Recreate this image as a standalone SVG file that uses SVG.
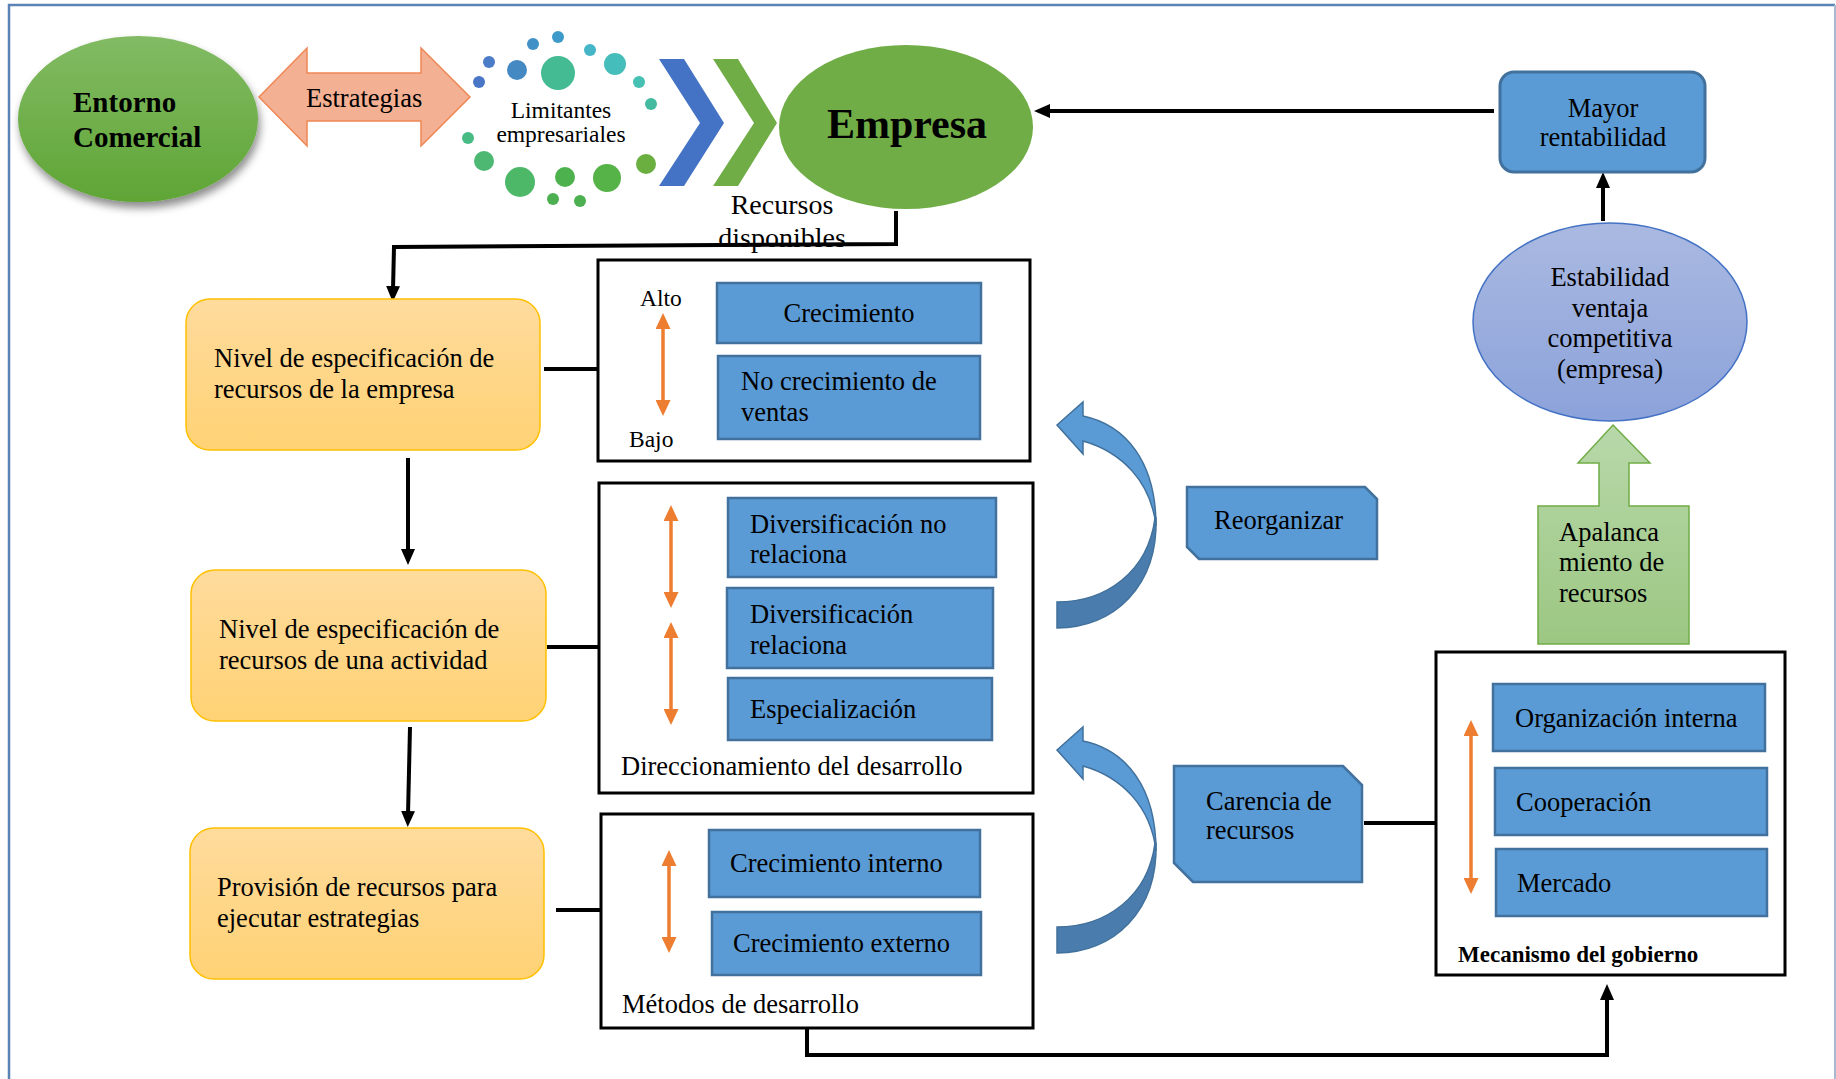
<svg xmlns="http://www.w3.org/2000/svg" width="1836" height="1079" viewBox="0 0 1836 1079">
  <style>
    text { font-family: "Liberation Serif", "Times New Roman", serif; fill: #000; }
    .t { font-size: 26.5px; }
    .tc { font-size: 26.5px; text-anchor: middle; }
    .box { fill: none; stroke: #000; stroke-width: 3; }
    .blue { fill: #5B9BD5; stroke: #41719C; stroke-width: 2.5; }
    .nivel { fill: url(#gNivel); stroke: #FFC000; stroke-width: 1.5; }
    .conn { fill: none; stroke: #000; stroke-width: 4; }
    .link { fill: none; stroke: #000; stroke-width: 4; }
    .orange { fill: none; stroke: #ED7D31; stroke-width: 3.5; marker-start: url(#oHead); marker-end: url(#oHead); }
    .curvF { fill: #5B9BD5; stroke: #41719C; stroke-width: 1.5; }
    .curvB { fill: #4A7DAE; stroke: #41719C; stroke-width: 1.5; }
  </style>
  <defs>
    <linearGradient id="gNivel" x1="0" y1="0" x2="0" y2="1">
      <stop offset="0" stop-color="#FFDB9D"/>
      <stop offset="1" stop-color="#FFD274"/>
    </linearGradient>
    <linearGradient id="gEntorno" x1="0" y1="0" x2="0" y2="1">
      <stop offset="0" stop-color="#82BB64"/>
      <stop offset="1" stop-color="#5FA535"/>
    </linearGradient>
    <linearGradient id="gEstab" x1="0" y1="0" x2="0" y2="1">
      <stop offset="0" stop-color="#AAB9E1"/>
      <stop offset="1" stop-color="#8BA2DA"/>
    </linearGradient>
    <linearGradient id="gApal" x1="0" y1="0" x2="0" y2="1">
      <stop offset="0" stop-color="#B8D8AA"/>
      <stop offset="1" stop-color="#9CC782"/>
    </linearGradient>
    <filter id="shadow" x="-20%" y="-20%" width="140%" height="150%">
      <feDropShadow dx="2" dy="6" stdDeviation="4" flood-color="#000" flood-opacity="0.45"/>
    </filter>
    <marker id="bHead" viewBox="0 0 16 14" refX="4" refY="7" markerWidth="16" markerHeight="14" markerUnits="userSpaceOnUse" orient="auto">
      <path d="M0,0 L16,7 L0,14 z" fill="#000"/>
    </marker>
    <marker id="oHead" viewBox="0 0 16 15" refX="3" refY="7.5" markerWidth="16" markerHeight="15" markerUnits="userSpaceOnUse" orient="auto-start-reverse">
      <path d="M0,0 L16,7.5 L0,15 z" fill="#ED7D31"/>
    </marker>
  </defs>

  <rect width="1836" height="1079" fill="#fff"/>

  <!-- page frame -->
  <path d="M9,1079 V5 H1835" fill="none" stroke="#5B84B6" stroke-width="2.5"/>
  <path d="M1835,5 V1079" fill="none" stroke="#A9BACF" stroke-width="2"/>

  <!-- connectors -->
  <g id="connectors">
    <path class="conn" d="M896,211 V244 L394,247 L393,290" marker-end="url(#bHead)"/>
    <path class="conn" d="M408,458 V553" marker-end="url(#bHead)"/>
    <path class="conn" d="M410,727 L408,815" marker-end="url(#bHead)"/>
    <path class="conn" d="M807,1028 V1055 H1607 V996" marker-end="url(#bHead)"/>
    <path class="conn" d="M1494,111 H1046" marker-end="url(#bHead)"/>
    <path class="conn" d="M1603,221 V184" marker-end="url(#bHead)"/>
    <path class="link" d="M544,369 H598"/>
    <path class="link" d="M547,647 H599"/>
    <path class="link" d="M556,910 H601"/>
    <path class="link" stroke-width="3.5" d="M1364,823 H1436"/>
  </g>

  <!-- Entorno Comercial -->
  <g id="entorno">
    <ellipse cx="138" cy="119" rx="120" ry="83" fill="url(#gEntorno)" filter="url(#shadow)"/>
    <text x="73" y="112" font-size="29" font-weight="bold">Entorno</text>
    <text x="73" y="147" font-size="29" font-weight="bold">Comercial</text>
  </g>

  <!-- Estrategias double arrow -->
  <g id="estrategias">
    <polygon points="259,97 307,48 307,73 421,73 421,48 470,97 421,146 421,121 307,121 307,146" fill="#F4B092" stroke="#EE8756" stroke-width="1.5"/>
    <text class="t" x="306" y="107">Estrategias</text>
  </g>

  <!-- Limitantes empresariales (dot ring) -->
  <g id="limitantes">
    <circle cx="558" cy="37" r="6" fill="#3E9BC9"/>
    <circle cx="533" cy="44" r="6" fill="#4190C6"/>
    <circle cx="590" cy="50" r="6" fill="#44B6C8"/>
    <circle cx="489" cy="62" r="6" fill="#4A7CC8"/>
    <circle cx="517" cy="70" r="10" fill="#4589C2"/>
    <circle cx="558" cy="73" r="17" fill="#44BB92"/>
    <circle cx="615" cy="64" r="11" fill="#45BDBB"/>
    <circle cx="479" cy="82" r="6" fill="#4A76C8"/>
    <circle cx="639" cy="82" r="6" fill="#45C0B2"/>
    <circle cx="651" cy="104" r="6" fill="#44BBA0"/>
    <circle cx="468" cy="138" r="6" fill="#48BB84"/>
    <circle cx="484" cy="161" r="10" fill="#4CB872"/>
    <circle cx="520" cy="182" r="15" fill="#4CB868"/>
    <circle cx="565" cy="177" r="10" fill="#4DB24E"/>
    <circle cx="607" cy="178" r="14" fill="#56B348"/>
    <circle cx="646" cy="164" r="10" fill="#6AAF40"/>
    <circle cx="553" cy="199" r="6" fill="#4CB050"/>
    <circle cx="580" cy="201" r="6" fill="#4CB050"/>
    <text x="561" y="118" font-size="23.5" text-anchor="middle">Limitantes</text>
    <text x="561" y="142" font-size="23.5" text-anchor="middle">empresariales</text>
  </g>

  <!-- chevrons -->
  <g id="chevrons">
    <polygon points="659,59 684,59 724,123 684,186 659,186 700,123" fill="#4472C4"/>
    <polygon points="713,59 738,59 777,123 738,186 713,186 754,123" fill="#70AD47"/>
  </g>

  <!-- Empresa -->
  <g id="empresa">
    <ellipse cx="906" cy="127" rx="127" ry="82" fill="#70AD47"/>
    <text x="907" y="138" font-size="42" font-weight="bold" text-anchor="middle">Empresa</text>
  </g>

  <g id="recursos-disponibles">
    <text x="782" y="214" font-size="28" text-anchor="middle">Recursos</text>
    <text x="782" y="247" font-size="28" text-anchor="middle">disponibles</text>
  </g>

  <!-- Mayor rentabilidad -->
  <g id="mayor">
    <rect x="1500" y="72" width="205" height="100" rx="14" fill="#5B9BD5" stroke="#41719C" stroke-width="3"/>
    <text class="tc" x="1603" y="117">Mayor</text>
    <text class="tc" x="1603" y="146">rentabilidad</text>
  </g>

  <!-- Estabilidad ventaja competitiva -->
  <g id="estabilidad">
    <ellipse cx="1610" cy="322" rx="137" ry="99" fill="url(#gEstab)" stroke="#4472C4" stroke-width="1.5"/>
    <text class="tc" x="1610" y="286">Estabilidad</text>
    <text class="tc" x="1610" y="317">ventaja</text>
    <text class="tc" x="1610" y="347">competitiva</text>
    <text class="tc" x="1610" y="378">(empresa)</text>
  </g>

  <!-- Apalancamiento de recursos -->
  <g id="apalancamiento">
    <polygon points="1613,425 1650,463 1629,463 1629,506 1689,506 1689,644 1538,644 1538,506 1599,506 1599,463 1578,463" fill="url(#gApal)" stroke="#70AD47" stroke-width="1.5"/>
    <text class="t" x="1559" y="541">Apalanca</text>
    <text class="t" x="1559" y="571">miento de</text>
    <text class="t" x="1559" y="602">recursos</text>
  </g>

  <!-- Nivel 1 -->
  <g id="nivel-empresa">
    <rect class="nivel" x="186" y="299" width="354" height="151" rx="24"/>
    <text class="t" x="214" y="367">Nivel de especificación de</text>
    <text class="t" x="214" y="398">recursos de la empresa</text>
  </g>

  <g id="crecimiento-panel">
    <rect class="box" x="598" y="260" width="432" height="201"/>
    <text x="640" y="306" font-size="23.5">Alto</text>
    <text x="629" y="447" font-size="23.5">Bajo</text>
    <path class="orange" d="M663,326 V403"/>
    <rect class="blue" x="717" y="283" width="264" height="60"/>
    <text class="tc" x="849" y="322">Crecimiento</text>
    <rect class="blue" x="718" y="356" width="262" height="83"/>
    <text class="t" x="741" y="390">No crecimiento de</text>
    <text class="t" x="741" y="421">ventas</text>
  </g>

  <!-- Nivel 2 -->
  <g id="nivel-actividad">
    <rect class="nivel" x="191" y="570" width="355" height="151" rx="24"/>
    <text class="t" x="219" y="638">Nivel de especificación de</text>
    <text class="t" x="219" y="669">recursos de una actividad</text>
  </g>

  <g id="direccionamiento-panel">
    <rect class="box" x="599" y="483" width="434" height="310"/>
    <path class="orange" d="M671,518 V595"/>
    <path class="orange" d="M671,635 V712"/>
    <rect class="blue" x="728" y="498" width="268" height="79"/>
    <text class="t" x="750" y="533">Diversificación no</text>
    <text class="t" x="750" y="563">relaciona</text>
    <rect class="blue" x="727" y="588" width="266" height="80"/>
    <text class="t" x="750" y="623">Diversificación</text>
    <text class="t" x="750" y="654">relaciona</text>
    <rect class="blue" x="728" y="678" width="264" height="62"/>
    <text class="t" x="750" y="718">Especialización</text>
    <text class="t" x="621" y="775">Direccionamiento del desarrollo</text>
  </g>

  <!-- Nivel 3 -->
  <g id="provision">
    <rect class="nivel" x="190" y="828" width="354" height="151" rx="24"/>
    <text class="t" x="217" y="896">Provisión de recursos para</text>
    <text class="t" x="217" y="927">ejecutar estrategias</text>
  </g>

  <g id="metodos-panel">
    <rect class="box" x="601" y="814" width="432" height="214"/>
    <path class="orange" d="M669,863 V940"/>
    <rect class="blue" x="709" y="830" width="271" height="67"/>
    <text class="t" x="730" y="872">Crecimiento interno</text>
    <rect class="blue" x="712" y="912" width="269" height="63"/>
    <text class="t" x="733" y="952">Crecimiento externo</text>
    <text class="t" x="622" y="1013">Métodos de desarrollo</text>
  </g>

  <!-- curved feedback arrows -->
  <g id="curva-reorganizar">
    <path class="curvF" d="M1057,425 L1083,402 L1083,416 C1126,425 1156,462 1156,526 C1151,482 1122,452 1083,441 L1083,454 Z"/>
    <path class="curvB" d="M1156,518 C1158,586 1114,628 1057,628 L1057,602 C1106,602 1148,572 1155,518 Z"/>
  </g>
  <g id="curva-carencia">
    <path class="curvF" d="M1057,750 L1083,727 L1083,741 C1126,750 1156,787 1156,851 C1151,807 1122,777 1083,766 L1083,779 Z"/>
    <path class="curvB" d="M1156,843 C1158,911 1114,953 1057,953 L1057,927 C1106,927 1148,897 1155,843 Z"/>
  </g>

  <!-- Reorganizar -->
  <g id="reorganizar">
    <polygon class="blue" points="1187,487 1365,487 1377,499 1377,559 1199,559 1187,547"/>
    <text class="t" x="1214" y="529">Reorganizar</text>
  </g>

  <!-- Carencia de recursos -->
  <g id="carencia">
    <polygon class="blue" points="1174,766 1343,766 1362,785 1362,882 1193,882 1174,863"/>
    <text class="t" x="1206" y="810">Carencia de</text>
    <text class="t" x="1206" y="839">recursos</text>
  </g>

  <!-- Mecanismo del gobierno -->
  <g id="mecanismo">
    <rect class="box" x="1436" y="652" width="349" height="323"/>
    <path class="orange" d="M1471,733 V881"/>
    <rect class="blue" x="1493" y="684" width="272" height="67"/>
    <text class="t" x="1515" y="727">Organización interna</text>
    <rect class="blue" x="1495" y="768" width="272" height="67"/>
    <text class="t" x="1516" y="811">Cooperación</text>
    <rect class="blue" x="1496" y="849" width="271" height="67"/>
    <text class="t" x="1517" y="892">Mercado</text>
    <text x="1458" y="962" font-size="23" font-weight="bold">Mecanismo del gobierno</text>
  </g>
</svg>
